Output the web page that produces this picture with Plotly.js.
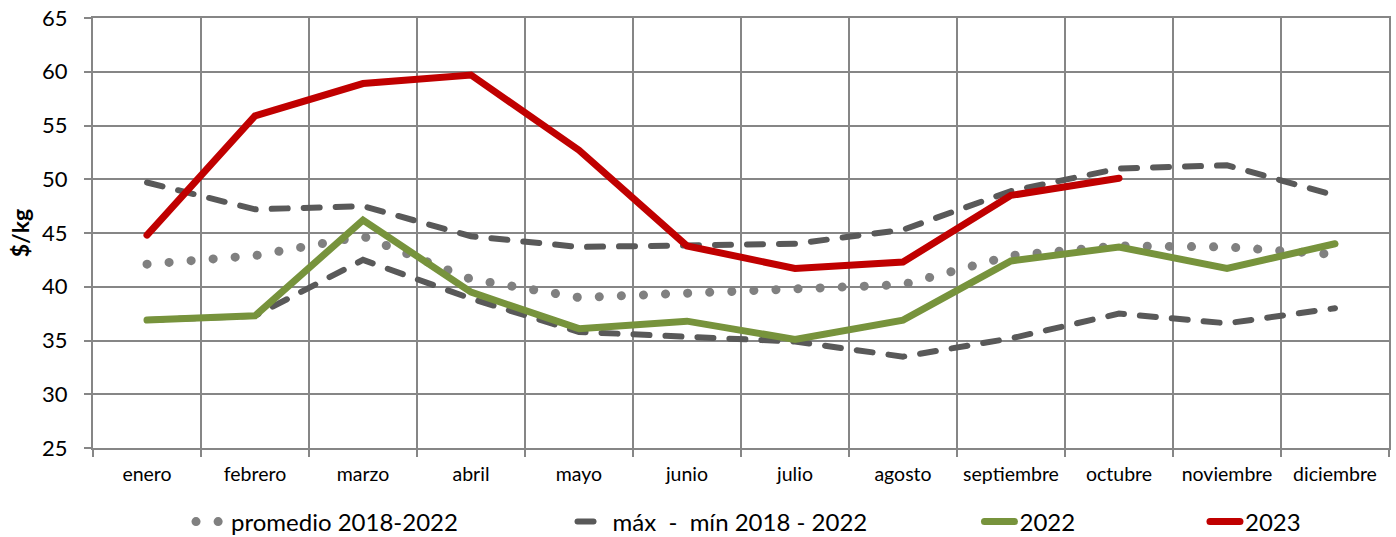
<!DOCTYPE html>
<html>
<head>
<meta charset="utf-8">
<script src="https://cdn.plot.ly/plotly-3.0.1.min.js"></script>
<style>
html,body{margin:0;padding:0;background:#fff;}
#chart{width:1396px;height:537px;}
.js-line{stroke-linecap:round;}
</style>
</head>
<body>
<div id="chart"></div>
<script>
const months = ["enero","febrero","marzo","abril","mayo","junio","julio","agosto","septiembre","octubre","noviembre","diciembre"];
const promedio = [42.1, 42.9, 44.7, 40.7, 39.0, 39.4, 39.8, 40.2, 42.9, 43.8, 43.7, 43.0];
const maximo = [49.7, 47.2, 47.5, 44.7, 43.7, 43.9, 44.0, 45.3, 48.9, 51.0, 51.3, 48.5];
const minimo = [36.9, 37.3, 42.5, 38.9, 35.8, 35.4, 34.9, 33.5, 35.2, 37.5, 36.6, 38.0];
const y2022 = [36.9, 37.3, 46.2, 39.5, 36.1, 36.8, 35.1, 36.9, 42.4, 43.7, 41.7, 44.0];
const y2023 = [44.8, 55.9, 58.9, 59.7, 52.7, 43.8, 41.7, 42.3, 48.5, 50.1];
const names = ["promedio 2018-2022", "máx  -  mín 2018 - 2022", "2022", "2023"];

const font = "Lato, 'Open Sans', sans-serif";
const traces = [
  {x: months, y: promedio, name: names[0], mode: "lines", legend: "legend",
   line: {color: "#808080", width: 9, dash: "0.1px,22px"}},
  {x: months, y: maximo, name: names[1], mode: "lines", legend: "legend2", legendgroup: "mm",
   line: {color: "#595959", width: 6, dash: "16px,16px"}},
  {x: months, y: minimo, name: names[1], mode: "lines", legend: "legend2", legendgroup: "mm", showlegend: false,
   line: {color: "#595959", width: 6, dash: "16px,16px"}},
  {x: months, y: y2022, name: names[2], mode: "lines", legend: "legend3",
   line: {color: "#77933C", width: 7}},
  {x: months.slice(0, y2023.length), y: y2023, name: names[3], mode: "lines", legend: "legend4",
   line: {color: "#C00000", width: 7}}
];

function lg(x){
  return {x: x, y: -0.172, xanchor: "left", yanchor: "middle", orientation: "h",
          font: {family: font, size: 24, color: "#000"}, bgcolor: "rgba(0,0,0,0)"};
}

const layout = {
  width: 1396, height: 537,
  margin: {l: 93, r: 7, t: 18, b: 89, autoexpand: false},
  paper_bgcolor: "#fff", plot_bgcolor: "#fff",
  font: {family: font, color: "#000"},
  xaxis: {
    type: "category", range: [-0.5, 11.5], tickson: "boundaries", ticks: "outside", ticklen: 7, tickwidth: 2, tickcolor: "#868686",
    ticklabelstandoff: 8, automargin: false, tickangle: 0,
    showgrid: true, gridcolor: "#868686", gridwidth: 2,
    showline: true, linecolor: "#868686", linewidth: 2, mirror: true,
    tickfont: {family: font, size: 19.5, color: "#000"}, fixedrange: true
  },
  yaxis: {
    range: [25, 65], dtick: 5, ticks: "outside", ticklen: 7, tickwidth: 2, tickcolor: "#868686",
    ticklabelstandoff: 12, automargin: false,
    showgrid: true, gridcolor: "#868686", gridwidth: 2, zeroline: false,
    showline: true, linecolor: "#868686", linewidth: 2, mirror: true,
    tickfont: {family: font, size: 22, color: "#000"},
    title: {text: "<b>$/kg</b>", font: {family: font, size: 23, color: "#000"}, standoff: 6},
    fixedrange: true
  },
  legend: lg(0.0756),
  legend2: lg(0.370),
  legend3: lg(0.684),
  legend4: lg(0.858),
  showlegend: true
};

Plotly.newPlot("chart", traces, layout, {displayModeBar: false, staticPlot: true});
</script>
</body>
</html>
